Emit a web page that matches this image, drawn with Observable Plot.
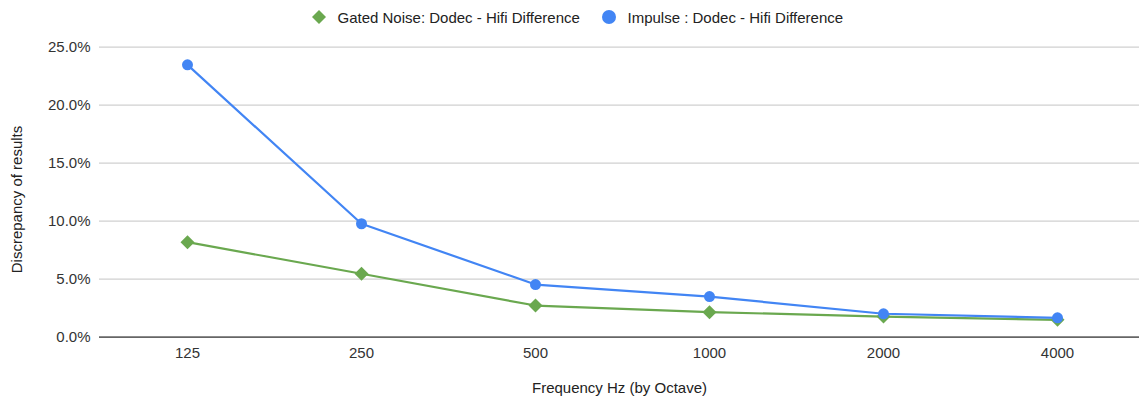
<!DOCTYPE html>
<html>
<head>
<meta charset="utf-8">
<script src="https://cdn.jsdelivr.net/npm/d3@7"></script>
<script src="https://cdn.jsdelivr.net/npm/@observablehq/plot@0.6"></script>
<style>
  html, body { margin: 0; padding: 0; background: #fff; }
  body { width: 1139px; height: 400px; overflow: hidden; font-family: "Liberation Sans", Arial, sans-serif; }
  #legend { position: relative; height: 34px; width: 1139px; font-size: 15px; color: #222; }
  .item { position: absolute; top: 0; height: 34px; display: flex; align-items: center; white-space: nowrap; }
  .item svg { margin-right: 11.5px; }
</style>
</head>
<body>
<div id="legend"></div>
<div id="chart"></div>
<script>
const frequencies = ["125", "250", "500", "1000", "2000", "4000"];
const gatedNoise = [0.0819, 0.0547, 0.0273, 0.0216, 0.0178, 0.0150];
const impulse = [0.2348, 0.0978, 0.0454, 0.0350, 0.0202, 0.0167];
const yTicks = [0, 0.05, 0.10, 0.15, 0.20, 0.25];
const seriesNames = ["Gated Noise: Dodec - Hifi Difference", "Impulse : Dodec - Hifi Difference"];
const colors = ["#6aa84f", "#4285f4"];

const gatedData = frequencies.map((f, i) => ({freq: f, value: gatedNoise[i]}));
const impulseData = frequencies.map((f, i) => ({freq: f, value: impulse[i]}));

// Legend
const legend = document.getElementById("legend");
const legendPos = [312, 602];
seriesNames.forEach((name, i) => {
  const div = document.createElement("div");
  div.className = "item";
  div.style.left = legendPos[i] + "px";
  const marker = i === 0
    ? `<svg width="14" height="14" viewBox="0 0 14 14"><path d="M7 0 L14 7 L7 14 L0 7 Z" fill="${colors[0]}"/></svg>`
    : `<svg width="14" height="14" viewBox="0 0 14 14"><circle cx="7" cy="7" r="7" fill="${colors[1]}"/></svg>`;
  div.innerHTML = marker + `<span>${name}</span>`;
  legend.appendChild(div);
});

const chart = Plot.plot({
  width: 1139,
  height: 366,
  marginLeft: 99,
  marginRight: 0,
  marginTop: 12.7,
  marginBottom: 63.3,
  style: {fontFamily: "'Liberation Sans', Arial, sans-serif", fontSize: "15px", color: "#333", background: "#fff"},
  x: {type: "point", domain: frequencies, padding: 0, insetLeft: 86.7, insetRight: 80},
  y: {domain: [0, 0.25]},
  marks: [
    Plot.ruleY(yTicks.filter(d => d > 0), {stroke: "#d0d0d0", strokeWidth: 1.2}),
    Plot.axisY({ticks: yTicks, tickFormat: d3.format(".1%"), tickSize: 0, tickPadding: 9, label: null, fill: "#333", fontSize: 15}),
    Plot.axisX({tickSize: 0, tickPadding: 10, label: null, fill: "#333", fontSize: 15}),
    Plot.ruleY([0], {stroke: "#666", strokeWidth: 1.8}),
    Plot.line(gatedData, {x: "freq", y: "value", stroke: colors[0], strokeWidth: 2.2}),
    Plot.dot(gatedData, {x: "freq", y: "value", symbol: "diamond2", r: 6.3, fill: colors[0], stroke: "none"}),
    Plot.line(impulseData, {x: "freq", y: "value", stroke: colors[1], strokeWidth: 2.2}),
    Plot.dot(impulseData, {x: "freq", y: "value", symbol: "circle", r: 5.5, fill: colors[1], stroke: "none"}),
    Plot.text(["Frequency Hz (by Octave)"], {frameAnchor: "bottom", dy: 55.5, fill: "#222", fontSize: 15}),
    Plot.text(["Discrepancy of results"], {frameAnchor: "left", textAnchor: "middle", dx: -82.3, dy: 7.3, rotate: -90, fill: "#222", fontSize: 15})
  ]
});
document.getElementById("chart").appendChild(chart);
</script>
</body>
</html>
